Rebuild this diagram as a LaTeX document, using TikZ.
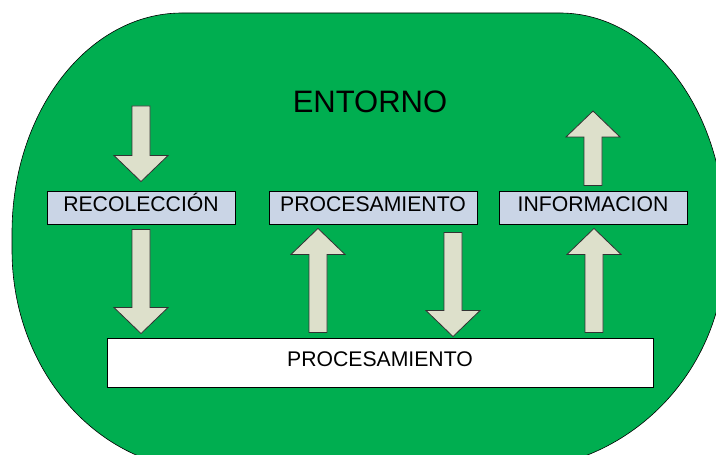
\documentclass[tikz,border=0pt]{standalone}
\usepackage{fontspec}
\setmainfont{Liberation Sans}
\usetikzlibrary{calc}

\definecolor{entorno}{HTML}{00AE50}
\definecolor{boxfill}{HTML}{CAD5E6}
\definecolor{arrowfill}{HTML}{DDE0CB}

\tikzset{
  box/.style={draw=black, line width=0.9pt, fill=boxfill, inner sep=0pt,
    minimum width=188pt, minimum height=33pt, text height=0.716em, text depth=0pt,
    font=\fontsize{21.2}{25}\selectfont},
  fat/.style={draw=black!80, fill=arrowfill, line width=0.8pt, line join=miter,
    to path={
      ($(\tikztostart)!9pt!90:(\tikztotarget)$) --
      ($(\tikztotarget)!26pt!(\tikztostart)!9pt!-90:(\tikztostart)$) --
      ($(\tikztotarget)!26pt!(\tikztostart)!27pt!-90:(\tikztostart)$) --
      (\tikztotarget) --
      ($(\tikztotarget)!26pt!(\tikztostart)!27pt!90:(\tikztostart)$) --
      ($(\tikztotarget)!26pt!(\tikztostart)!9pt!90:(\tikztostart)$) --
      ($(\tikztostart)!9pt!-90:(\tikztotarget)$) -- cycle}}
}

\begin{document}
\begin{tikzpicture}[x=1pt, y=1pt]
\useasboundingbox (0,0) rectangle (716,455);
\clip (0,0) rectangle (716,455);

%the environment
\draw [black, line width=0.6pt, fill=entorno] (12,222)
  arc [start angle=180, end angle=90, x radius=170, y radius=220] -- (560,442)
  arc [start angle=90, end angle=0, x radius=165, y radius=220] -- (725,205)
  arc [start angle=0, end angle=-90, x radius=216, y radius=220] -- (207,-15)
  arc [start angle=-90, end angle=-180, x radius=195, y radius=220] -- cycle;
\node [font=\fontsize{31}{36}\selectfont] (ent) at (370,353) {ENTORNO};

%the boxes
\node [box] (rec) at (141,247.5) {RECOLECCIÓN};
\node [box, minimum width=208pt] (proc) at (373,247.5) {PROCESAMIENTO};
\node [box] (info) at (593,247.5) {INFORMACION};
\node [box, fill=white, minimum width=546pt, minimum height=49pt] (big) at (380,92.5) {PROCESAMIENTO};

%the arrows
\coordinate (in) at (141,349);
\coordinate (out) at (593,344);
\draw [fat] (in) to ([yshift=9pt]rec.north);
\draw [fat] ([yshift=-5pt]rec.south) to ($(rec.south |- big.north)+(0,4)$);
\draw [fat] ($(big.north)+(-62,5)$) to ($(proc.south)+(-55,-4)$);
\draw [fat] ($(proc.south)+(80,-8)$) to ($(big.north)+(73,1)$);
\draw [fat] ($(info.south |- big.north)+(1,5)$) to ($(info.south)+(1,-4)$);
\draw [fat] ([yshift=5pt]info.north) to (out);
\end{tikzpicture}
\end{document}
